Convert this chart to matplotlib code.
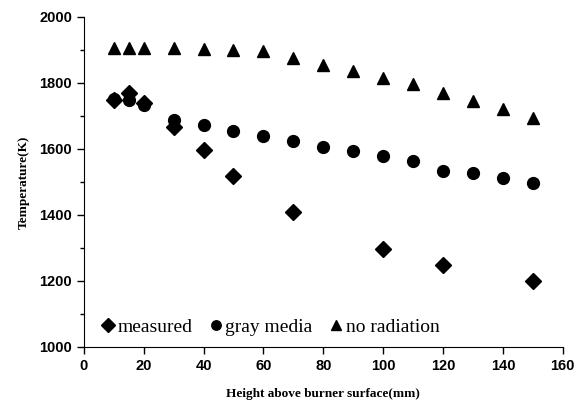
import matplotlib
matplotlib.use("Agg")
import matplotlib.pyplot as plt
from matplotlib.ticker import MultipleLocator

x_meas = [10, 15, 20, 30, 40, 50, 70, 100, 120, 150]
t_meas = [1748, 1769, 1738, 1665, 1598, 1517, 1408, 1298, 1247, 1199]

x_sim = [10, 15, 20, 30, 40, 50, 60, 70, 80, 90, 100, 110, 120, 130, 140, 150]
t_gray = [1750, 1747, 1733, 1688, 1672, 1655, 1638, 1624, 1607, 1593, 1578, 1562, 1534, 1528, 1512, 1498]
t_norad = [1906, 1906, 1906, 1906, 1903, 1900, 1897, 1877, 1855, 1836, 1815, 1797, 1770, 1746, 1722, 1695]

fig = plt.figure(figsize=(5.82, 4.03), dpi=100)
ax = fig.add_axes([0.144, 0.139, 0.823, 0.819])

ax.plot(x_meas, t_meas, ls="none", marker="D", ms=8.5, color="black", label="measured")
ax.plot(x_sim, t_gray, ls="none", marker="o", ms=8.5, color="black", label="gray media")
ax.plot(x_sim, t_norad, ls="none", marker="^", ms=8.5, color="black", label="no radiation")

ax.set_xlim(0, 160)
ax.set_ylim(1000, 2000)
ax.xaxis.set_major_locator(MultipleLocator(20))
ax.yaxis.set_major_locator(MultipleLocator(200))
ax.yaxis.set_minor_locator(MultipleLocator(100))
ax.spines["top"].set_visible(False)
ax.spines["right"].set_visible(False)
ax.tick_params(axis="both", which="major", direction="out", length=5, width=1)
ax.tick_params(axis="y", which="minor", direction="out", length=3, width=1)
for lab in ax.get_xticklabels() + ax.get_yticklabels():
    lab.set_fontfamily("Liberation Sans")
    lab.set_fontweight("bold")
    lab.set_fontsize(10.5)

ax.set_xlabel("Height above burner surface(mm)", family="Liberation Serif",
              fontweight="bold", fontsize=9.5, labelpad=11)
ax.set_ylabel("Temperature(K)", family="Liberation Serif",
              fontweight="bold", fontsize=9.5, labelpad=7)

leg = ax.legend(loc="lower left", bbox_to_anchor=(0.003, -0.02), ncol=3, frameon=False,
                prop={"family": "Liberation Serif", "size": 14},
                handlelength=0.5, handletextpad=0.25, columnspacing=0.95, markerscale=0.8)

fig.savefig("out.png", dpi=100)
